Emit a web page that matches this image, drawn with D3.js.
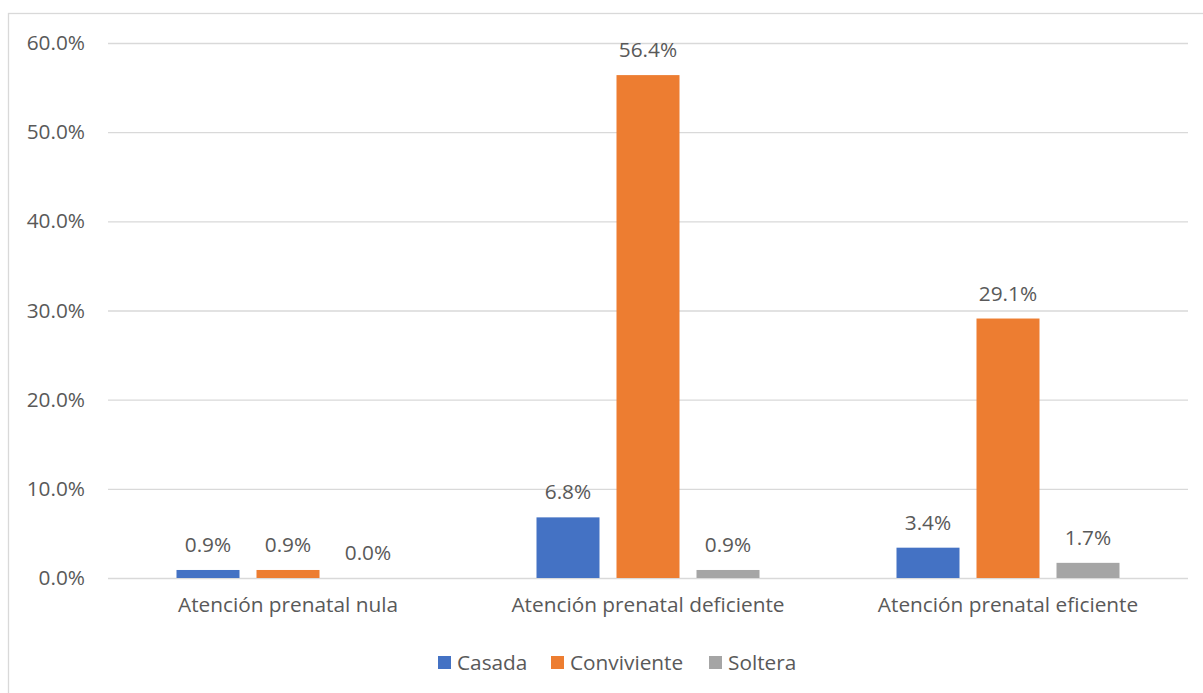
<!DOCTYPE html>
<html><head><meta charset="utf-8">
<script src="https://cdn.jsdelivr.net/npm/d3@7"></script>
<style>body{margin:0;background:#fff;} svg{display:block;font-family:"Open Sans",sans-serif;}</style>
</head><body>
<svg id="c" width="1203" height="693"></svg>
<script>
const categories = ["Atención prenatal nula", "Atención prenatal deficiente", "Atención prenatal eficiente"];
const seriesNames = ["Casada", "Conviviente", "Soltera"];
const casada = [0.9, 6.8, 3.4];
const conviviente = [0.9, 56.4, 29.1];
const soltera = [0.0, 0.9, 1.7];
const yTicks = [0, 10, 20, 30, 40, 50, 60];
const colors = ["#4472C4", "#ED7D31", "#A5A5A5"];

(function() {
const series = [casada, conviviente, soltera];
const svg = d3.select("#c");
const pLeft = 108, pRight = 1188, pTop = 43, pBottom = 578;
const textColor = "#595959", fs = 20.8;

// chart border
svg.append("rect").attr("x", 8.5).attr("y", 13.5).attr("width", 1210).attr("height", 700)
  .attr("fill", "none").attr("stroke", "#D9D9D9").attr("stroke-width", 1.3);

const y = d3.scaleLinear().domain([0, 60]).range([pBottom, pTop]);
const x0 = d3.scaleBand().domain(categories).range([pLeft, pRight]).paddingInner(0).paddingOuter(0);
const x1 = d3.scaleBand().domain(seriesNames).range([68.5, 360 - 68.5]).paddingInner(17 / 80).paddingOuter(0);

// gridlines + y labels
const yAxis = d3.axisLeft(y).tickValues(yTicks).tickSize(-(pRight - pLeft)).tickPadding(23)
  .tickFormat(d => d.toFixed(1) + "%");
const ga = svg.append("g").attr("transform", `translate(${pLeft},0)`).call(yAxis);
ga.select(".domain").remove();
ga.selectAll("line").attr("stroke", "#D9D9D9").attr("stroke-width", 1.3);
ga.selectAll("text").attr("fill", textColor).style("font-size", fs + "px").style("font-family", "'Open Sans',sans-serif");

// x axis labels
const xAxis = d3.axisBottom(x0).tickSize(0).tickPadding(19);
const gx = svg.append("g").attr("transform", `translate(0,${pBottom})`).call(xAxis);
gx.select(".domain").remove();
gx.selectAll("text").attr("fill", textColor).style("font-size", fs + "px").style("font-family", "'Open Sans',sans-serif");

// bars
const groups = svg.append("g").selectAll("g").data(categories).join("g")
  .attr("transform", d => `translate(${x0(d)},0)`);
groups.each(function(cat, ci) {
  const g = d3.select(this);
  seriesNames.forEach((s, si) => {
    const v = series[si][ci];
    g.append("rect").attr("x", x1(s)).attr("width", x1.bandwidth())
      .attr("y", y(v)).attr("height", y(0) - y(v)).attr("fill", colors[si]);
    g.append("text").attr("x", x1(s) + x1.bandwidth() / 2).attr("y", y(v) - 18)
      .attr("text-anchor", "middle").attr("fill", textColor).style("font-size", fs + "px")
      .text(v.toFixed(1) + "%");
  });
});

// legend
const legendX = [438, 551, 709];
const lg = svg.append("g");
seriesNames.forEach((s, i) => {
  lg.append("rect").attr("x", legendX[i]).attr("y", 656).attr("width", 13).attr("height", 13).attr("fill", colors[i]);
  lg.append("text").attr("x", legendX[i] + 19).attr("y", 669.5).attr("fill", textColor)
    .style("font-size", fs + "px").text(s);
});
})();
</script>
</body></html>
